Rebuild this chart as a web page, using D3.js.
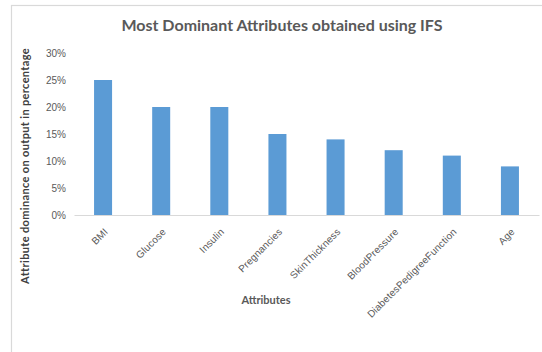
<!DOCTYPE html>
<html>
<head>
<meta charset="utf-8">
<script src="https://cdn.jsdelivr.net/npm/d3@7"></script>
<style>
  html, body { margin: 0; padding: 0; background: #fff; }
  svg { display: block; font-family: Lato, "Open Sans", sans-serif; }
</style>
</head>
<body>
<svg id="chart" width="542" height="352"></svg>
<script>
const categories = ["BMI", "Glucose", "Insulin", "Pregnancies", "SkinThickness", "BloodPressure", "DiabetesPedigreeFunction", "Age"];
const values = [25, 20, 20, 15, 14, 12, 11, 9];
const yTicks = [0, 5, 10, 15, 20, 25, 30];
const title = "Most Dominant Attributes obtained using IFS";
const xTitle = "Attributes";
const yTitle = "Attribute  dominance on output in percentage";

const svg = d3.select("#chart");
const W = 542, H = 352;
const m = { left: 74, right: 3, top: 53, bottom: 137 };

// chart border
svg.append("rect").attr("x", 11.5).attr("y", 5.5).attr("width", W).attr("height", H)
  .attr("fill", "none").attr("stroke", "#d9d9d9").attr("stroke-width", 1.2);

const x = d3.scaleBand().domain(categories).range([m.left, W - m.right]).paddingInner(0.69).paddingOuter(0.345);
const y = d3.scaleLinear().domain([0, 30]).range([H - m.bottom, m.top]);

// bars
svg.append("g").selectAll("rect").data(values).join("rect")
  .attr("x", (d, i) => x(categories[i]))
  .attr("y", d => y(d))
  .attr("width", x.bandwidth())
  .attr("height", d => y(0) - y(d))
  .attr("fill", "#5b9bd5");

// y axis
const yAxis = svg.append("g").attr("transform", `translate(${m.left},0)`)
  .call(d3.axisLeft(y).tickValues(yTicks).tickFormat(d => d + "%").tickSize(0).tickPadding(8));
yAxis.select(".domain").remove();
yAxis.selectAll("text").attr("fill", "#595959").style("font-size", "10px");

// x axis
const xAxis = svg.append("g").attr("transform", `translate(0,${y(0)})`)
  .call(d3.axisBottom(x).tickSize(0).tickPadding(0));
xAxis.select(".domain").attr("stroke", "#d9d9d9").attr("stroke-width", 1);
xAxis.selectAll("text")
  .attr("fill", "#595959").style("font-size", "10px").style("letter-spacing", "0.15px")
  .attr("text-anchor", "end")
  .attr("dy", "0.35em")
  .attr("transform", "translate(3,15) rotate(-45)");

// title
svg.append("text").attr("x", 282).attr("y", 31).attr("text-anchor", "middle")
  .attr("fill", "#595959").style("font-size", "16px").style("font-weight", "bold").text(title);

// x title
svg.append("text").attr("x", 266).attr("y", 304).attr("text-anchor", "middle")
  .attr("fill", "#595959").style("font-size", "11px").style("font-weight", "bold").text(xTitle);

// y title
svg.append("text").attr("transform", "translate(29,166) rotate(-90)").attr("text-anchor", "middle")
  .attr("fill", "#404040").style("font-size", "11px").style("letter-spacing", "0.35px")
  .style("font-weight", "bold").text(yTitle);
</script>
</body>
</html>
